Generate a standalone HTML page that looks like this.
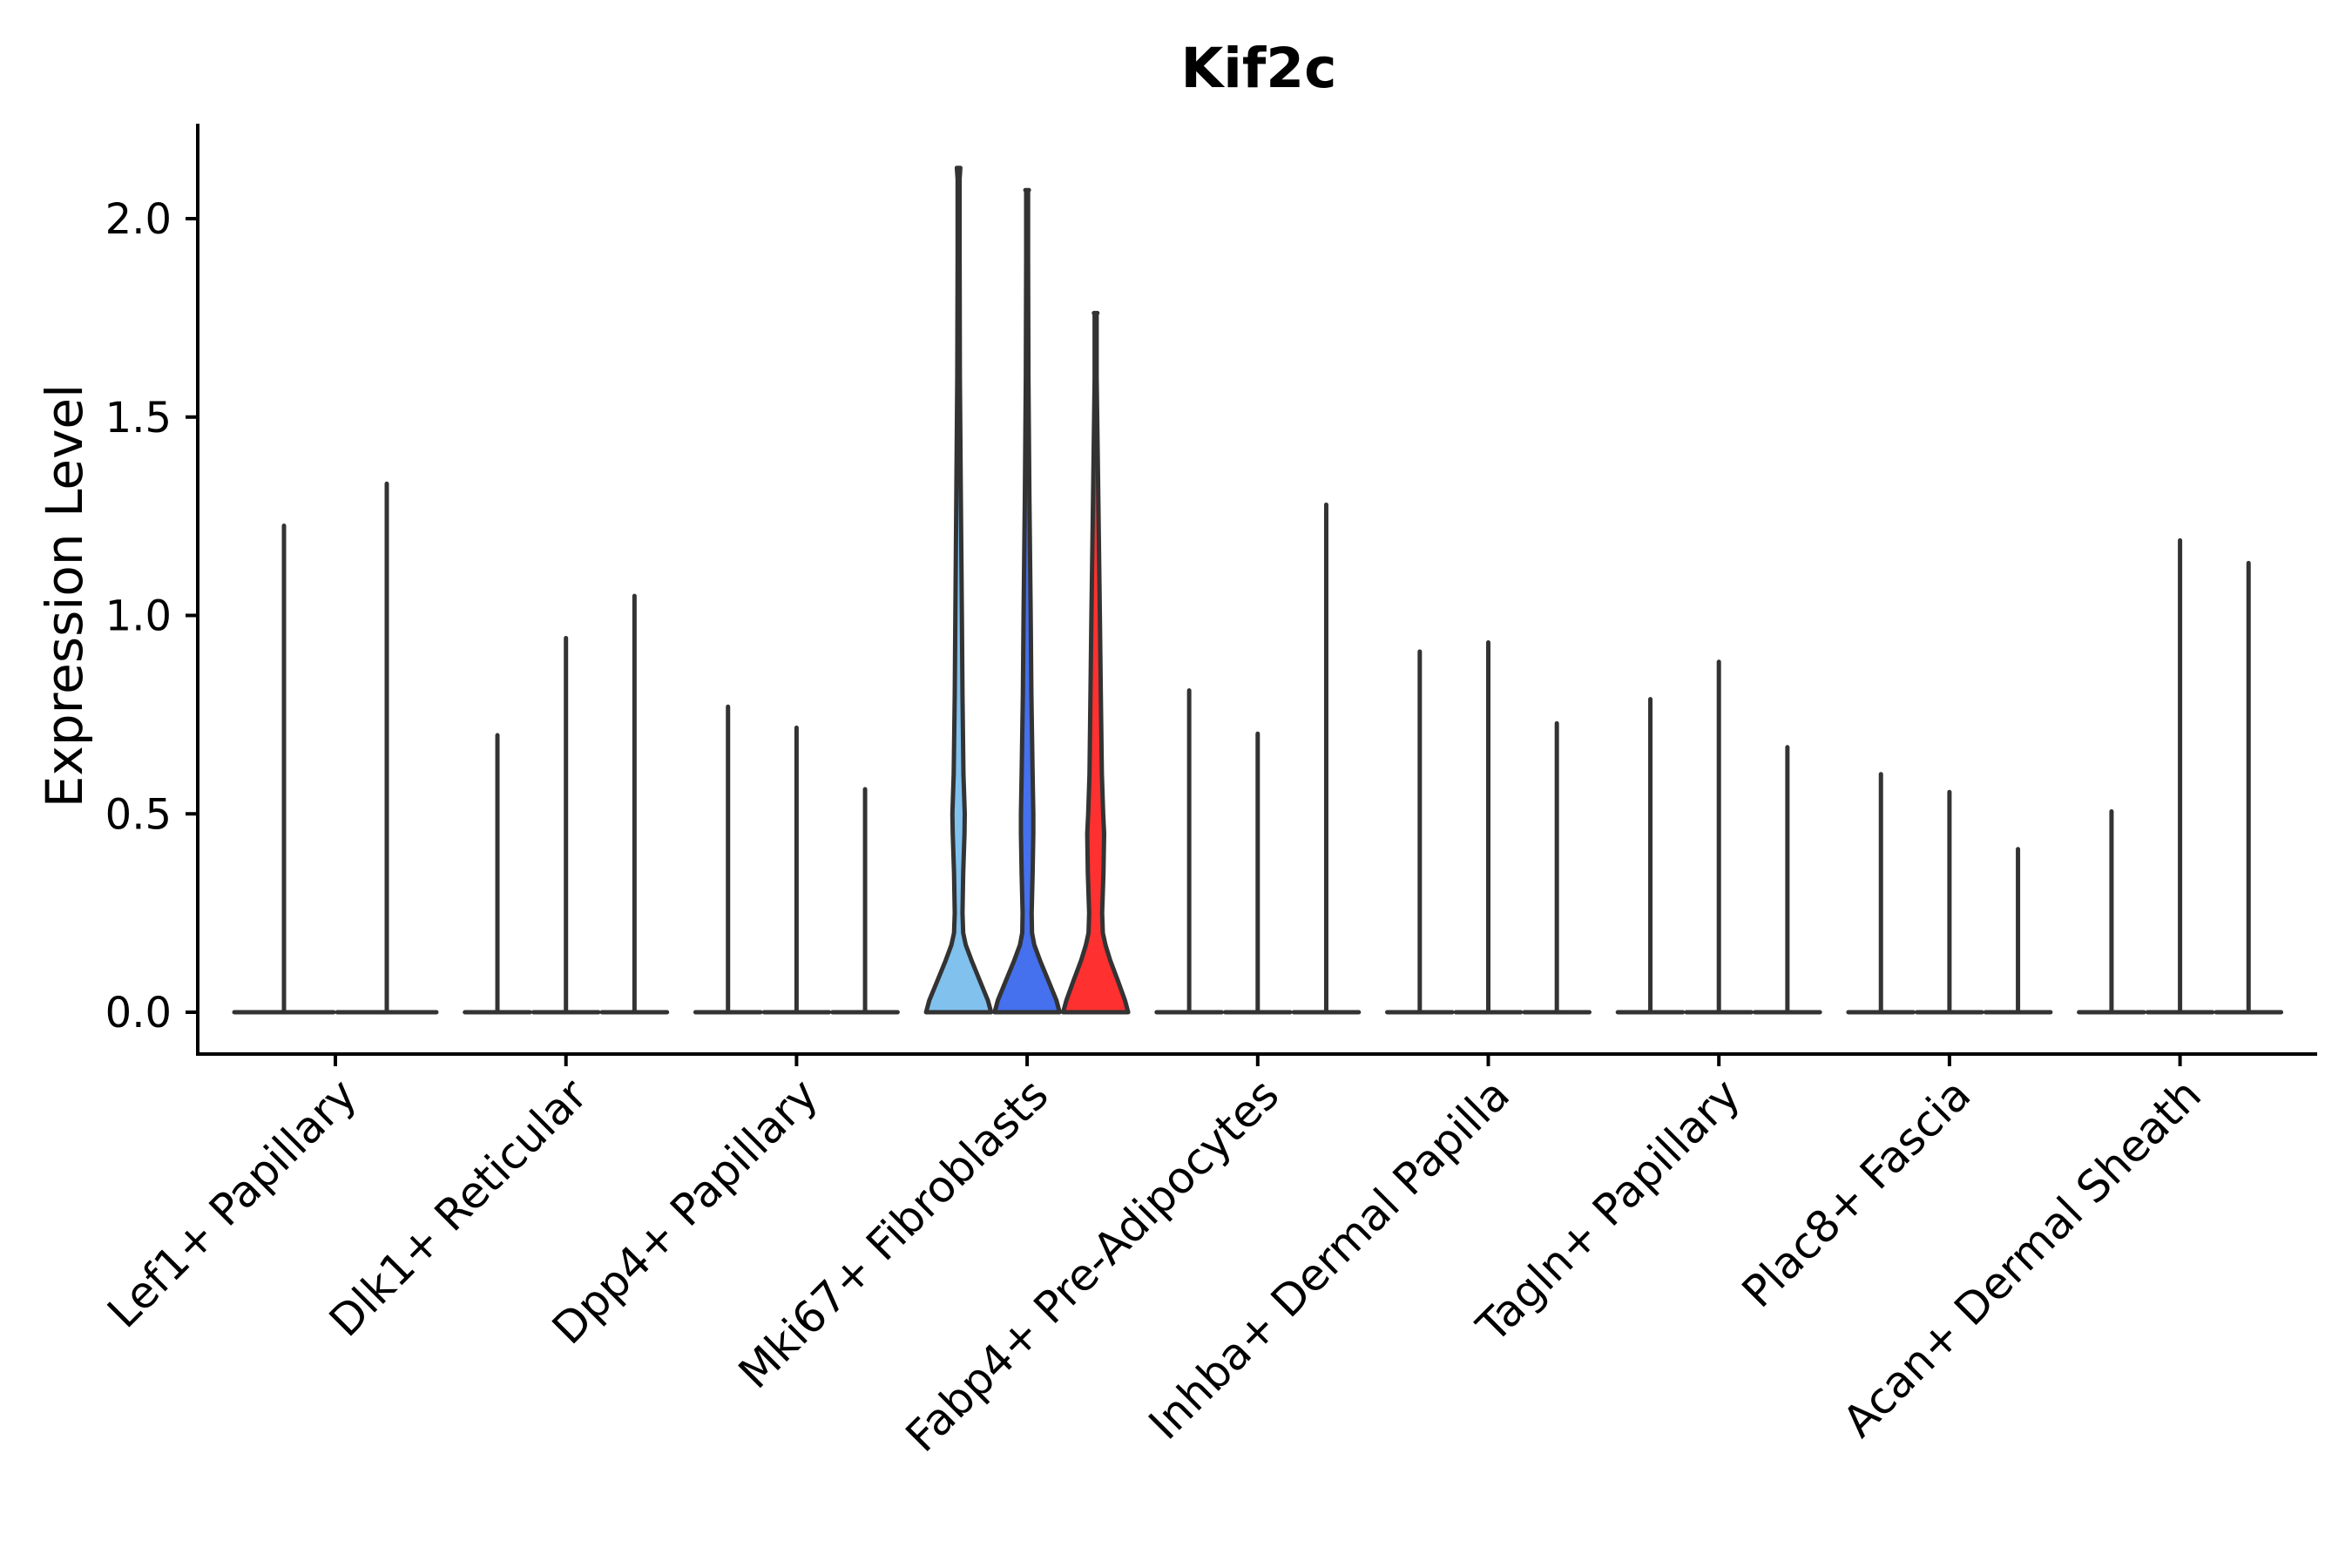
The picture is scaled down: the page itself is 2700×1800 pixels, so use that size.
<!DOCTYPE html>
<html><head><meta charset="utf-8"><style>
html,body{margin:0;padding:0;background:#fff;}
svg{display:block;font-family:"DejaVu Sans","Liberation Sans",sans-serif;}
</style></head><body>
<svg id="chart" width="2700" height="1800" viewBox="0 0 2700 1800" xmlns="http://www.w3.org/2000/svg">
<rect width="2700" height="1800" fill="#fff"/>
<text x="1445" y="100" text-anchor="middle" font-size="63" font-weight="bold" fill="#000">Kif2c</text>
<text transform="translate(94,684) rotate(-90)" text-anchor="middle" font-size="58" fill="#000">Expression Level</text>
<g id="plot"></g>
</svg>
<script>
const categories = ["Lef1+ Papillary","Dlk1+ Reticular","Dpp4+ Papillary","Mki67+ Fibroblasts","Fabp4+ Pre-Adipocytes","Inhba+ Dermal Papilla","Tagln+ Papillary","Plac8+ Fascia","Acan+ Dermal Sheath"];
const maxValues = [
  [1.226,1.332],
  [0.698,0.943,1.049],
  [0.770,0.717,0.562],
  [2.128,2.072,1.762],
  [0.811,0.702,1.279],
  [0.909,0.932,0.728],
  [0.789,0.883,0.668],
  [0.600,0.555,0.411],
  [0.506,1.189,1.132]
];
const yTicks = [0,0.5,1.0,1.5,2.0];
const yTickLabels = ["0.0","0.5","1.0","1.5","2.0"];
const mkiColors = ["#80C1EE","#4570EE","#FF3030"];
const profileLevels = [0,0.03,0.08,0.13,0.17,0.2,0.25,0.35,0.45,0.5,0.6,0.8,1.0,1.3,1.6,1.9,2.1];
const profiles = [
  [1.0,0.9,0.65,0.4,0.22,0.14,0.12,0.14,0.18,0.19,0.15,0.12,0.10,0.07,0.04,0.03,0.03],
  [1.0,0.9,0.65,0.4,0.22,0.15,0.14,0.17,0.19,0.19,0.17,0.13,0.11,0.07,0.04,0.03,0.03],
  [1.0,0.9,0.68,0.45,0.30,0.22,0.20,0.24,0.26,0.23,0.19,0.16,0.13,0.08,0.03,0.03,0.03]
];

const NS="http://www.w3.org/2000/svg";
const plot=document.getElementById('plot');
const X0=227, X1=2660, YTOP=142, YBOT=1210;
const yScale=v=>1162 - v*455.5;
const xScale=i=>385 + i*264.7;
function mk(tag,attrs){const e=document.createElementNS(NS,tag);for(const k in attrs)e.setAttribute(k,attrs[k]);plot.appendChild(e);return e;}

let ax=mk('line',{x1:X0,y1:YTOP,x2:X0,y2:YBOT+2,stroke:'#000','stroke-width':4});


let bx=mk('line',{x1:X0-2,y1:YBOT,x2:X1,y2:YBOT,stroke:'#000','stroke-width':4});



yTicks.forEach((v,i)=>{
  const y=yScale(v);
  const t=mk('line',{x1:X0-14,y1:y,x2:X0,y2:y,stroke:'#000','stroke-width':4});
  
  
  const l=mk('text',{x:X0-30,y:y+17,'text-anchor':'end','font-size':48,fill:'#000'});
  l.textContent=yTickLabels[i];
  
  
});

categories.forEach((c,i)=>{
  const cx=xScale(i);
  const t=mk('line',{x1:cx,y1:YBOT,x2:cx,y2:YBOT+14,stroke:'#000','stroke-width':4});
  
  
  const l=mk('text',{transform:`translate(${cx+27},${YBOT+50}) rotate(-45)`,'text-anchor':'end','font-size':50,fill:'#000'});
  l.textContent=c;
  
  

  const vals=maxValues[i];
  const n=vals.length;
  const groupHalf=118;
  const subW=2*groupHalf/n;
  vals.forEach((v,j)=>{
    const sx=cx-groupHalf+subW*(j+0.5);
    const hw=subW/2-2;
    const y0=yScale(0);
    if(i===3){
      const prof=profiles[j];
      let right=[];
      for(let k=0;k<profileLevels.length;k++){
        const lv=Math.min(profileLevels[k],v);
        right.push([sx+prof[k]*hw,yScale(lv)]);
        if(profileLevels[k]>=v)break;
      }
      right.push([sx+2,yScale(v)]);
      const left=right.map(p=>[2*sx-p[0],p[1]]).reverse();
      const pts=right.concat(left);
      let d=`M${sx-hw},${y0} L${sx+hw},${y0}`;
      pts.forEach(p=>{d+=` L${p[0].toFixed(1)},${p[1].toFixed(1)}`;});
      d+=' Z';
      const p=mk('path',{d:d,fill:mkiColors[j],stroke:'#333','stroke-width':5,'stroke-linejoin':'round'});
      
      
    } else {
      const g=mk('path',{d:`M${sx-hw},${y0} L${sx+hw},${y0} M${sx},${y0} L${sx},${yScale(v)}`,fill:'none',stroke:'#333','stroke-width':5,'stroke-linecap':'round'});
      
      
    }
  });
});
</script>
</body></html>
